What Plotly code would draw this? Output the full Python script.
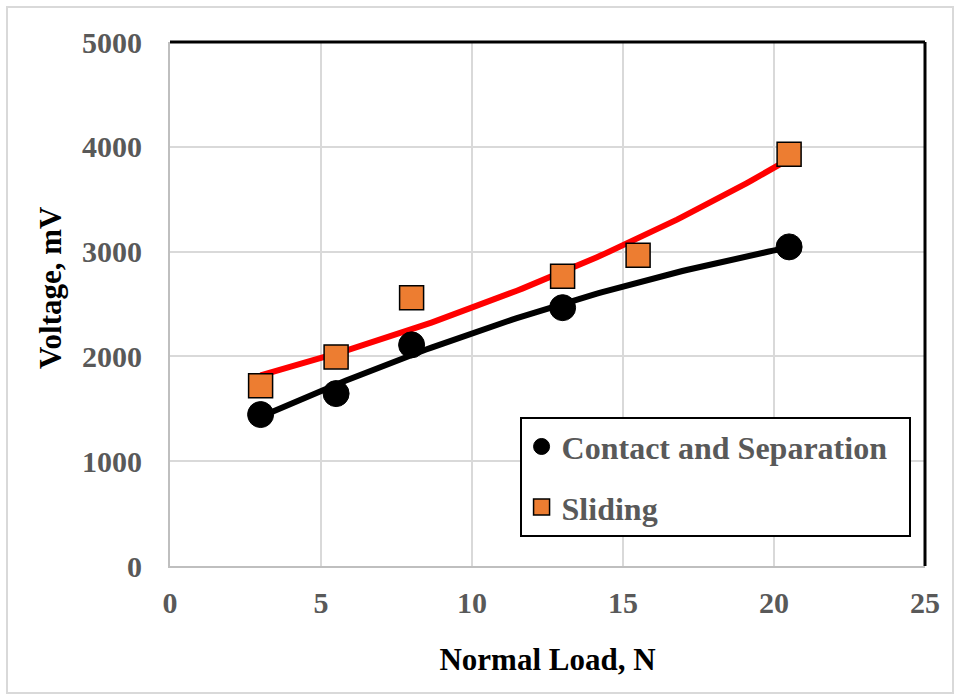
import numpy as np
import plotly.graph_objects as go

# Data
cs_load = [3, 5.5, 8, 13, 20.5]
cs_voltage = [1445, 1645, 2110, 2465, 3045]
sl_load = [3, 5.5, 8, 13, 15.5, 20.5]
sl_voltage = [1720, 1995, 2560, 2765, 2965, 3930]
x_ticks = [0, 5, 10, 15, 20, 25]
y_ticks = [0, 1000, 2000, 3000, 4000, 5000]

# Trendlines fitted to the data (2nd-order polynomial / exponential)
cx = np.array(cs_load, float); cy = np.array(cs_voltage, float)
pc = np.polyfit(cx, cy, 2)
sx = np.array(sl_load, float); sy = np.array(sl_voltage, float)
b_e, a_e = np.polyfit(sx, np.log(sy), 1)
tx_c = np.linspace(cx.min(), cx.max(), 100)
ty_c = np.polyval(pc, tx_c)
tx_s = np.linspace(sx.min(), sx.max(), 100)
ty_s = np.exp(a_e) * np.exp(b_e * tx_s)

font_fam = "Liberation Serif, Times New Roman, serif"

fig = go.Figure()
fig.add_trace(go.Scatter(x=tx_c, y=ty_c, mode="lines", line=dict(color="black", width=6),
                         showlegend=False, hoverinfo="skip"))
fig.add_trace(go.Scatter(x=tx_s, y=ty_s, mode="lines", line=dict(color="#FF0000", width=6),
                         showlegend=False, hoverinfo="skip"))
fig.add_trace(go.Scatter(x=cs_load, y=cs_voltage, mode="markers",
                         name="<b>Contact and Separation</b>\u00a0\u00a0",
                         legendgroup="a",
                         marker=dict(symbol="circle", size=26, color="black",
                                     line=dict(color="black", width=1))))
fig.add_trace(go.Scatter(x=sl_load, y=sl_voltage, mode="markers", name="<b>Sliding</b>",
                         legendgroup="b",
                         marker=dict(symbol="square", size=24, color="#ED7D31",
                                     line=dict(color="black", width=1.5))))

tickfont = dict(size=30, color="#595959", family=font_fam, weight="bold")

fig.update_layout(
    width=960, height=700,
    margin=dict(l=170, r=35, t=42, b=134),
    paper_bgcolor="white", plot_bgcolor="white",
    font=dict(family=font_fam),
    xaxis=dict(range=[0, 25], tickvals=x_ticks,
               showgrid=True, gridcolor="#D9D9D9", gridwidth=2,
               showline=True, linecolor="#BFBFBF", linewidth=2, zeroline=False,
               tickfont=tickfont, ticks="", ticklabelstandoff=9,
               title=dict(text="<b>Normal Load, N</b>", font=dict(size=31, color="black"), standoff=30)),
    yaxis=dict(range=[0, 5000], tickvals=y_ticks,
               showgrid=True, gridcolor="#D9D9D9", gridwidth=2,
               showline=True, linecolor="#BFBFBF", linewidth=2, zeroline=False,
               tickfont=tickfont, ticks="", ticklabelstandoff=20),
    annotations=[dict(text="<b>Voltage, mV</b>", textangle=-90, xref="paper", yref="paper",
                      x=(50 - 170) / 755, y=(566 - 288) / 524, xanchor="center", yanchor="middle",
                      showarrow=False, font=dict(size=31, color="black", family=font_fam))],
    legend=dict(x=0.463, y=0.284, xanchor="left", yanchor="top",
                bgcolor="white", bordercolor="black", borderwidth=2,
                font=dict(size=32, color="#595959", family=font_fam),
                traceorder="grouped", tracegroupgap=16, itemwidth=30),
    shapes=[
        dict(type="line", xref="paper", yref="paper", x0=0, x1=1, y0=1, y1=1,
             line=dict(color="black", width=3)),
        dict(type="line", xref="paper", yref="paper", x0=1, x1=1, y0=0, y1=1,
             line=dict(color="black", width=3)),
        dict(type="rect", xref="paper", yref="paper",
             x0=-163/755, x1=(755+28)/755, y0=-127/524, y1=(524+35)/524,
             line=dict(color="#D9D9D9", width=2)),
    ],
)

fig.write_html("out.html")
